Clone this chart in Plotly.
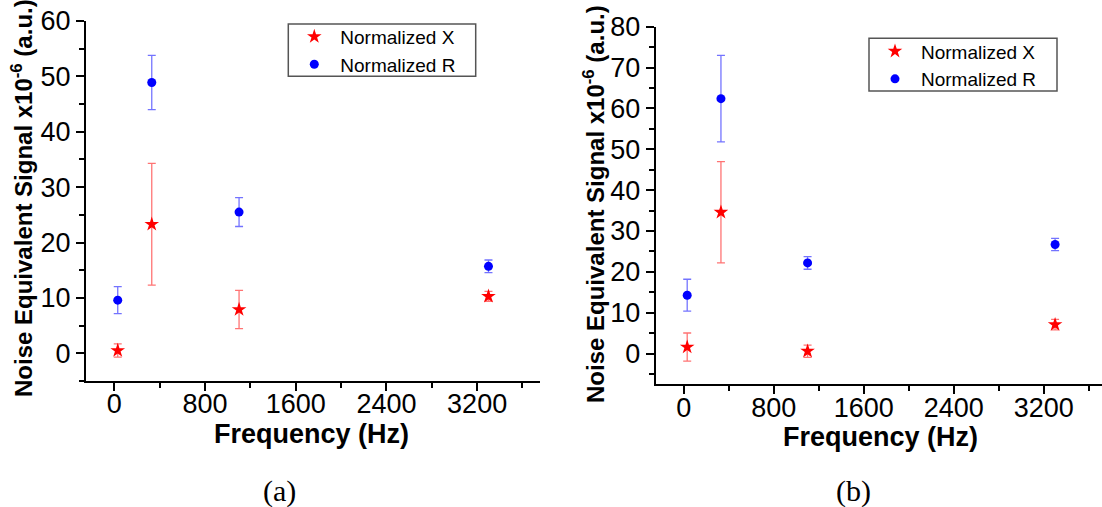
import plotly.graph_objects as go

# ---- data ----
freq = [30, 330, 1100, 3300]

x_a = [0.5, 23.3, 7.9, 10.3]
x_a_err = [1.2, 11.0, 3.45, 0.9]
r_a = [9.6, 48.9, 25.5, 15.7]
r_a_err = [2.45, 4.9, 2.6, 1.15]

x_b = [1.6, 34.6, 0.6, 7.1]
x_b_err = [3.45, 12.4, 1.5, 1.3]
r_b = [14.3, 62.4, 22.2, 26.7]
r_b_err = [3.9, 10.6, 1.55, 1.5]

x_ticks = [0, 800, 1600, 2400, 3200]

W, H = 1102, 507
SANS = "Liberation Sans, Arial, sans-serif"
SERIF = "Liberation Serif, Times New Roman, serif"

fig = go.Figure()

def add_pair(xs, yx, ex, yr, er, xa, ya, legend):
    fig.add_trace(go.Scatter(
        x=xs, y=yx, mode="markers", name="Normalized X",
        marker=dict(symbol="star", size=11, color="red"),
        error_y=dict(type="data", array=ex, visible=True,
                     color="rgba(255,0,0,0.55)", thickness=1.3, width=4),
        xaxis=xa, yaxis=ya, legend=legend))
    fig.add_trace(go.Scatter(
        x=xs, y=yr, mode="markers", name="Normalized R",
        marker=dict(symbol="circle", size=9, color="blue"),
        error_y=dict(type="data", array=er, visible=True,
                     color="rgba(0,0,255,0.55)", thickness=1.3, width=4),
        xaxis=xa, yaxis=ya, legend=legend))

add_pair(freq, x_a, x_a_err, r_a, r_a_err, "x", "y", "legend")
add_pair(freq, x_b, x_b_err, r_b, r_b_err, "x2", "y2", "legend2")

def xaxis(domain, anchor, rng):
    return dict(domain=domain, anchor=anchor, range=rng, automargin=False,
                tickmode="array", tickvals=x_ticks,
                ticks="outside", ticklen=8, tickwidth=2, tickcolor="black",
                minor=dict(ticks="outside", ticklen=5, tickwidth=2,
                           tickcolor="black", dtick=400, tick0=0),
                showline=True, linewidth=2, linecolor="black",
                showgrid=False, zeroline=False, ticklabelstandoff=-10,
                tickfont=dict(family=SANS, size=27, color="black"))

def yaxis(domain, anchor, rng):
    return dict(domain=domain, anchor=anchor, range=rng, automargin=False,
                tickmode="linear", tick0=0, dtick=10,
                ticks="outside", ticklen=8, tickwidth=2, tickcolor="black",
                minor=dict(ticks="outside", ticklen=5, tickwidth=2,
                           tickcolor="black", dtick=5, tick0=0),
                showline=True, linewidth=2, linecolor="black",
                showgrid=False, zeroline=False,
                tickfont=dict(family=SANS, size=27, color="black"))

legend_style = dict(font=dict(family=SANS, size=19, color="black"),
                    borderwidth=0, bgcolor="rgba(0,0,0,0)", itemwidth=42,
                    xanchor="left", yanchor="top", tracegroupgap=0)

fig.update_layout(
    width=W, height=H,
    margin=dict(l=0, r=0, t=0, b=0, autoexpand=False),
    paper_bgcolor="white", plot_bgcolor="white",
    xaxis=xaxis([86 / W, 539.5 / W], "y", [-250, 3750]),
    yaxis=yaxis([1 - 381 / H, 1 - 21 / H], "x", [-5, 60]),
    xaxis2=xaxis([655.7 / W, 1.0], "y2", [-250, 3717]),
    yaxis2=yaxis([1 - 384.3 / H, 1 - 26.7 / H], "x2", [-7.5, 80]),
    legend=dict(x=288.3 / W, y=1 - 17.7 / H, **legend_style),
    legend2=dict(x=869 / W, y=1 - 32.3 / H, **legend_style),
    showlegend=True,
)

# legend frames
boxes = [(288.3, 24, 475.7, 76.3), (869, 38.3, 1057, 91)]
for x0, y0, x1, y1 in boxes:
    fig.add_shape(type="rect", xref="paper", yref="paper",
                  x0=x0 / W, x1=x1 / W, y0=1 - y1 / H, y1=1 - y0 / H,
                  line=dict(color="#555555", width=1.5),
                  fillcolor="rgba(0,0,0,0)", layer="below")

ytitle = "<b>Noise Equivalent Signal x10<sup>-6</sup> (a.u.)</b>"
xtitle = "<b>Frequency (Hz)</b>"

ann = [
    dict(text=ytitle, x=22 / W, y=1 - 198 / H, textangle=-90,
         font=dict(family=SANS, size=24, color="black")),
    dict(text=ytitle, x=594 / W, y=1 - 204 / H, textangle=-90,
         font=dict(family=SANS, size=24, color="black")),
    dict(text=xtitle, x=311.7 / W, y=1 - 434 / H,
         font=dict(family=SANS, size=27, color="black")),
    dict(text=xtitle, x=880.5 / W, y=1 - 437 / H,
         font=dict(family=SANS, size=27, color="black")),
    dict(text="(a)", x=279 / W, y=1 - 491 / H,
         font=dict(family=SERIF, size=30, color="black")),
    dict(text="(b)", x=853 / W, y=1 - 491 / H,
         font=dict(family=SERIF, size=30, color="black")),
]
for a in ann:
    a.update(xref="paper", yref="paper", showarrow=False,
             xanchor="center", yanchor="middle")
fig.update_layout(annotations=ann)

fig.write_html("out.html")
